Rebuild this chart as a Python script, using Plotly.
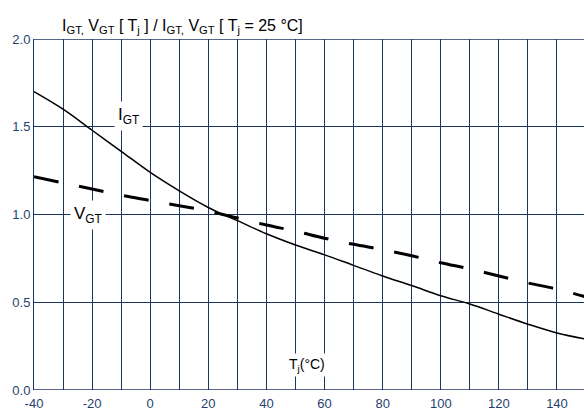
import plotly.graph_objects as go

temps = [-40, -30, -20, -10, 0, 10, 20, 25, 30, 40, 50, 60, 70, 80, 90, 100, 110, 120, 130, 140, 150]
igt = [1.70, 1.60, 1.48, 1.36, 1.24, 1.135, 1.04, 1.0, 0.965, 0.89, 0.826, 0.77, 0.71, 0.65, 0.595, 0.537, 0.49, 0.432, 0.375, 0.325, 0.29]
vgt = [1.215, 1.18, 1.145, 1.11, 1.08, 1.05, 1.02, 1.0, 0.98, 0.94, 0.905, 0.865, 0.83, 0.80, 0.765, 0.725, 0.69, 0.65, 0.61, 0.575, 0.53]

x_ticks = [-40, -20, 0, 20, 40, 60, 80, 100, 120, 140]
y_ticks = [0.0, 0.5, 1.0, 1.5, 2.0]

grid_col = "#1c355e"
tick_col = "#1f3f6e"

fig = go.Figure()
fig.add_trace(go.Scatter(x=temps, y=igt, mode="lines", line=dict(color="black", width=1.5, shape="spline"),
                         showlegend=False, hoverinfo="skip"))
fig.add_trace(go.Scatter(x=temps, y=vgt, mode="lines", line=dict(color="black", width=3, dash="25px,21px", shape="spline"),
                         showlegend=False, hoverinfo="skip"))

fig.update_layout(
    width=584, height=417,
    margin=dict(l=34, r=0, t=39, b=27, autoexpand=False),
    paper_bgcolor="white", plot_bgcolor="white",
    font=dict(family="Liberation Sans, Arial, sans-serif", size=13, color=tick_col),
    xaxis=dict(range=[-40, 149.3], tickvals=x_ticks, ticktext=[str(v) for v in x_ticks],
               showgrid=True, gridcolor=grid_col, gridwidth=1,
               zeroline=False, showline=False, ticks="", automargin=False, ticklabelstandoff=4,
               tickfont=dict(size=13, color=tick_col)),
    yaxis=dict(range=[0, 2.0], tickvals=y_ticks, ticktext=["%.1f" % v for v in y_ticks],
               showgrid=True, gridcolor=grid_col, gridwidth=1, zeroline=False,
               showline=True, linecolor=grid_col, linewidth=1, ticks="", automargin=False,
               tickfont=dict(size=13, color=tick_col)),
)

fig.update_xaxes(minor=dict(dtick=10, tick0=-40, showgrid=True, gridcolor=grid_col, gridwidth=1))
fig.add_shape(type="line", xref="paper", yref="y", x0=0, x1=1, y0=0, y1=0, line=dict(color=grid_col, width=1.5))
fig.add_shape(type="line", xref="paper", yref="y", x0=0, x1=1, y0=2, y1=2, line=dict(color=grid_col, width=1.5))

fig.add_annotation(xref="paper", yref="paper", x=0, y=1, xanchor="left", yanchor="bottom", align="left",
                   yshift=1, xshift=26,
                   text="I<sub>GT,</sub> V<sub>GT</sub> [ T<sub>j</sub> ] / I<sub>GT,</sub> V<sub>GT</sub> [ T<sub>j</sub> = 25 °C]",
                   showarrow=False, font=dict(size=16, color="black"))
fig.add_annotation(x=-7.5, y=1.56, text="I<sub>GT</sub>", showarrow=False, bgcolor="white",
                   font=dict(size=17, color="black"), borderpad=3)
fig.add_annotation(x=-21.5, y=1.0, text="V<sub>GT</sub>", showarrow=False, bgcolor="white",
                   font=dict(size=17, color="black"), borderpad=3)
fig.add_annotation(x=54, y=0.14, text="T<sub>j</sub>(°C)", showarrow=False, bgcolor="white",
                   font=dict(size=14, color="black"), borderpad=2)

fig.write_html("out.html", config={"displayModeBar": False},
               post_script="document.body.style.margin='0';document.body.style.overflow='hidden';")
